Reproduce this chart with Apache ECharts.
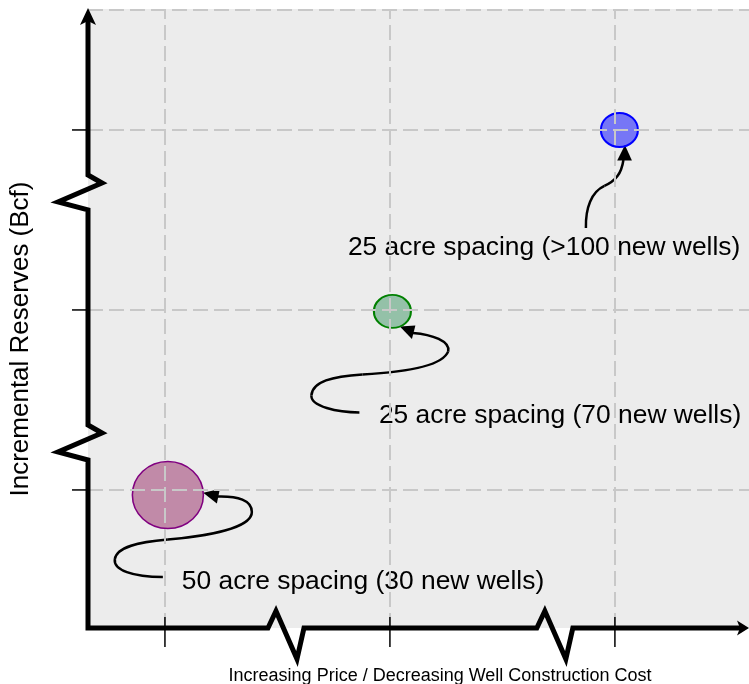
<!DOCTYPE html>
<html><head><meta charset="utf-8">
<script src="https://cdn.jsdelivr.net/npm/echarts@6/dist/echarts.min.js"></script>
<style>html,body{margin:0;padding:0;background:#fff}#c{width:749px;height:684px}</style>
</head><body><div id="c"></div>
<script>
// ---- data ----
const labels = ["50 acre spacing (30 new wells)", "25 acre spacing (70 new wells)", "25 acre spacing (>100 new wells)"];
const xValues = [1.013, 2.011, 3.02];
const yValues = [0.972, 1.992, 3.0];
const bubbleW = [71, 37, 37];
const bubbleH = [67, 33, 34];
const xTicks = [1, 2, 3];
const yTicks = [1, 2, 3];
const xBreaks = [1.458, 2.653];
const yBreaks = [2.75, 1.361];
const xTitle = "Increasing Price / Decreasing Well Construction Cost";
const yTitle = "Incremental Reserves (Bcf)";

// ---- layout / style ----
const XMIN = 0.658, XMAX = 3.596, YMIN = 0.233, YMAX = 3.672;
const FONT = "'Liberation Sans', Arial, Helvetica, sans-serif";
const fills = ['rgba(150,40,100,0.5)', 'rgba(60,150,100,0.5)', 'rgba(0,0,255,0.5)'];
const borders = ['#800080', '#008000', '#0000ff'];
const borderW = [1.5, 2, 2];
// each arrow: start point followed by cubic segments [c1x,c1y,c2x,c2y,x,y]
const arrowCurves = [
  [[-5, 82], [-35, 82, -55, 75, -53, 64], [-51, 52, -30, 47, 0, 44.5], [40, 41, 84, 33, 84, 17], [84, 5, 70, 1, 50, 1.5]],
  [[-33, 101], [-55, 101, -82, 95, -81, 84], [-80, 70, -60, 65, -30, 63], [10, 61, 50, 55, 55.8, 40], [58, 30, 40, 23, 20.5, 21.5]],
  [[-33.5, 98], [-34, 78, -28, 62, -15, 56], [-4, 51, 2, 44, 4, 30]]
];
const arrowHeads = [
  [[35.3, -2.2], [52, -6], [49, 8.5]],
  [[7.5, 15], [23, 14], [19.5, 27.5]],
  [[5.5, 15], [-2.2, 30.5], [12.5, 30.5]]
];
const textOffsets = [[14, 87], [-13.5, 104], [-271.5, 117.5]];

const chart = echarts.init(document.getElementById('c'), null, {renderer: 'canvas'});
const hiddenAxis = (min, max) => ({
  type: 'value', min: min, max: max,
  axisLine: {show: false}, axisTick: {show: false}, axisLabel: {show: false}, splitLine: {show: false}
});
const gridLines = [
  ...xTicks.map(v => ({xAxis: v})),
  ...yTicks.map(v => ({yAxis: v})),
  {yAxis: YMAX}
];
chart.setOption({
  animation: false,
  grid: {left: 88, right: 0, top: 9, bottom: 56, show: true, backgroundColor: '#ececec', borderWidth: 0},
  xAxis: hiddenAxis(XMIN, XMAX),
  yAxis: hiddenAxis(YMIN, YMAX),
  series: [{
    type: 'scatter',
    symbol: 'circle',
    data: xValues.map((x, i) => ({
      name: labels[i],
      value: [x, yValues[i]],
      symbolSize: [bubbleW[i], bubbleH[i]],
      itemStyle: {color: fills[i], borderColor: borders[i], borderWidth: borderW[i], opacity: 1}
    })),
    markLine: {
      silent: true, symbol: 'none', label: {show: false}, animation: false,
      lineStyle: {type: [15, 6], color: '#c8c8c8', width: 2},
      emphasis: {disabled: true},
      data: gridLines
    }
  }]
});

const px = (x, y) => chart.convertToPixel({gridIndex: 0}, [x, y]);
const g = [];
const origin = px(XMIN, YMIN);
const x0 = origin[0], y0 = origin[1];
const topY = px(XMIN, YMAX)[1];
const rightX = px(XMAX, YMIN)[0];

// axis polyline with zigzag breaks
const pts = [[x0, topY + 12]];
yBreaks.forEach(b => {
  const y = px(XMIN, b)[1];
  pts.push([x0, y], [x0 + 14, y + 8], [x0 - 30, y + 27], [x0, y + 35]);
});
pts.push([x0, y0]);
xBreaks.forEach(b => {
  const x = px(b, YMIN)[0];
  pts.push([x, y0], [x + 8, y0 - 17], [x + 29, y0 + 31], [x + 36, y0]);
});
pts.push([rightX - 8, y0]);
g.push({type: 'polyline', shape: {points: pts}, style: {stroke: '#000', lineWidth: 5, fill: null, lineJoin: 'miter'}, z: 10});
// arrow heads
g.push({type: 'polygon', shape: {points: [[x0, topY - 1], [x0 + 8, topY + 16], [x0, topY + 12], [x0 - 8, topY + 16]]}, style: {fill: '#000'}, z: 11});
g.push({type: 'polygon', shape: {points: [[rightX, y0], [rightX - 12, y0 - 7.5], [rightX - 9, y0], [rightX - 12, y0 + 7.5]]}, style: {fill: '#000'}, z: 11});
// ticks
xTicks.forEach(v => {
  const x = px(v, YMIN)[0];
  g.push({type: 'line', shape: {x1: x, y1: y0 - 11, x2: x, y2: y0 + 19}, style: {stroke: '#000', lineWidth: 1.5}, z: 11});
});
yTicks.forEach(v => {
  const y = px(XMIN, v)[1];
  g.push({type: 'line', shape: {x1: x0 - 16, y1: y, x2: x0, y2: y}, style: {stroke: '#000', lineWidth: 1.5}, z: 11});
});
// annotations (arrows + texts) anchored to each bubble
xValues.forEach((x, i) => {
  const c = px(x, yValues[i]);
  const children = [];
  const curve = arrowCurves[i];
  let p = curve[0];
  for (let k = 1; k < curve.length; k++) {
    const s = curve[k];
    children.push({type: 'bezierCurve',
      shape: {x1: p[0], y1: p[1], cpx1: s[0], cpy1: s[1], cpx2: s[2], cpy2: s[3], x2: s[4], y2: s[5]},
      style: {stroke: '#000', lineWidth: 2.5, fill: null}});
    p = [s[4], s[5]];
  }
  children.push({type: 'polygon', shape: {points: arrowHeads[i]}, style: {fill: '#000'}});
  children.push({type: 'text', x: textOffsets[i][0], y: textOffsets[i][1],
    style: {text: labels[i], font: '26.4px ' + FONT, fill: '#000', align: 'left', verticalAlign: 'middle'}});
  g.push({type: 'group', x: c[0], y: c[1], z: 12, children: children});
});
// axis titles
g.push({type: 'text', x: 440, y: 676, z: 12,
  style: {text: xTitle, font: '18px ' + FONT, fill: '#000', align: 'center', verticalAlign: 'middle'}});
g.push({type: 'text', x: 21, y: 339, rotation: Math.PI / 2, z: 12,
  style: {text: yTitle, font: '26px ' + FONT, fill: '#000', align: 'center', verticalAlign: 'middle'}});

chart.setOption({graphic: g});
</script>
</body></html>
